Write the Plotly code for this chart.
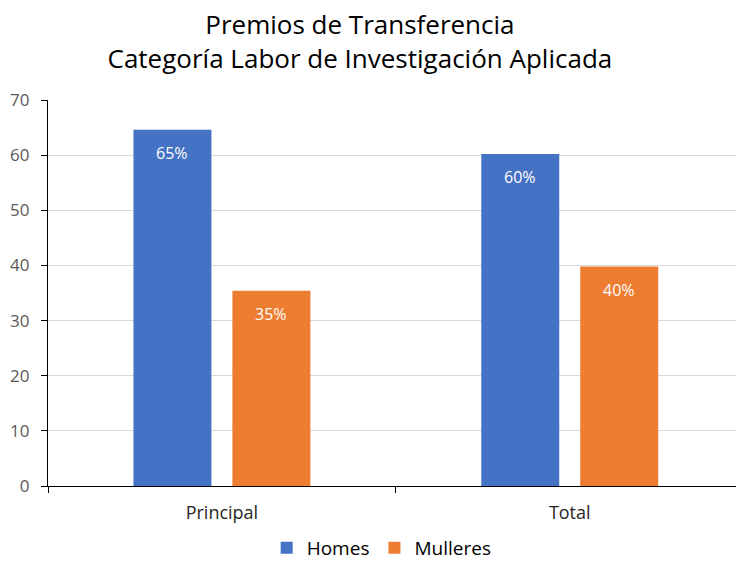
import plotly.graph_objects as go

categories = ["Principal", "Total"]
homes = [64.6, 60.2]
mulleres = [35.4, 39.8]
homes_labels = ["65%", "60%"]
mulleres_labels = ["35%", "40%"]
y_ticks = [0, 10, 20, 30, 40, 50, 60, 70]

FONT = "'Open Sans', sans-serif"
BLUE = "#4472C4"
ORANGE = "#ED7D31"

fig = go.Figure()
fig.add_trace(go.Bar(name="Homes", x=categories, y=homes, marker_color=BLUE,
                     marker_line_width=0))
fig.add_trace(go.Bar(name="Mulleres", x=categories, y=mulleres, marker_color=ORANGE,
                     marker_line_width=0))

# data labels near the top inside each bar
for vals, labs, shift in [(homes, homes_labels, -49.5), (mulleres, mulleres_labels, 49.5)]:
    for c, v, t in zip(categories, vals, labs):
        fig.add_annotation(x=c, y=v, text=t, showarrow=False, xshift=shift, yshift=-23,
                           font=dict(family=FONT, size=16, color="white"))

fig.update_layout(
    width=736, height=567,
    paper_bgcolor="white", plot_bgcolor="white",
    margin=dict(l=48, r=0, t=100, b=81, autoexpand=False),
    barmode="group", bargap=0.431, bargroupgap=0.212,
    title=dict(text="Premios de Transferencia<br>Categoría Labor de Investigación Aplicada",
               x=0.489, xref="container", xanchor="center", y=0.94, yanchor="top",
               font=dict(family=FONT, size=26, color="black")),
    font=dict(family=FONT, color="#595959"),
    legend=dict(orientation="h", x=0.485, xanchor="center", xref="paper",
                y=-0.01, yanchor="bottom", yref="container",
                font=dict(family=FONT, size=19, color="black"),
                itemwidth=30, traceorder="normal", tracegroupgap=0),
    showlegend=True,
)
fig.update_xaxes(type="category", range=[-0.5, 1.478],
                 showline=True, linecolor="black", linewidth=1.3,
                 ticks="outside", tickson="boundaries", ticklen=6, tickcolor="black",
                 tickfont=dict(family=FONT, size=18, color="#262626"),
                 ticklabelstandoff=10, showgrid=False)
fig.update_yaxes(range=[0, 70], tickvals=y_ticks,
                 showline=True, linecolor="black", linewidth=1.3,
                 ticks="outside", ticklen=6, tickcolor="black",
                 tickfont=dict(family=FONT, size=17, color="#595959"),
                 ticklabelstandoff=8,
                 showgrid=True, gridcolor="#D9D9D9", gridwidth=1, zeroline=False)

fig.write_html("out.html", config={"displayModeBar": False},
               post_script="document.body.style.margin='0';document.body.style.overflow='hidden';")
